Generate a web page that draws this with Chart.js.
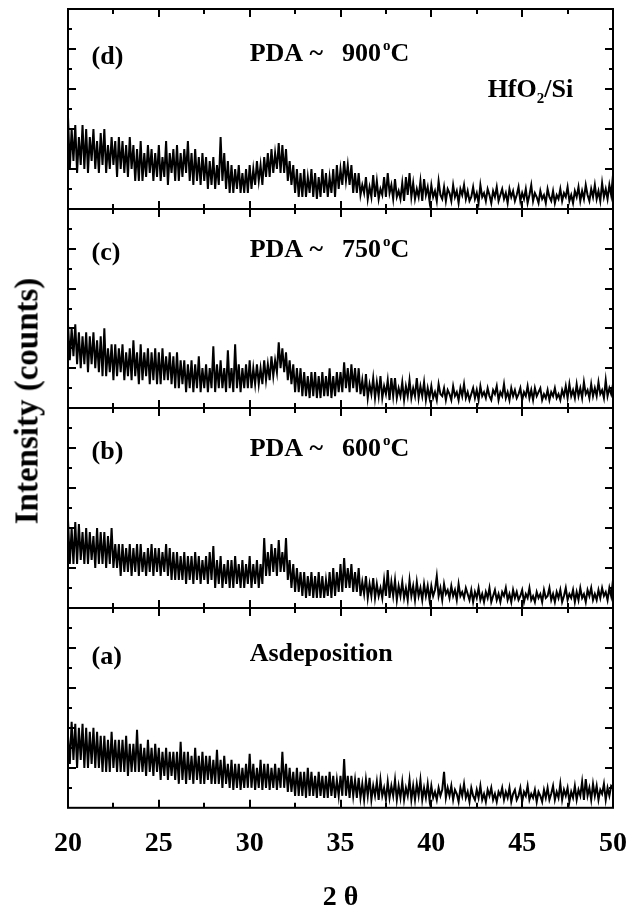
<!DOCTYPE html>
<html>
<head>
<meta charset="utf-8">
<script src="https://cdn.jsdelivr.net/npm/chart.js@4.4.1/dist/chart.umd.min.js"></script>
<style>
  html, body { margin: 0; padding: 0; background: #fff; }
  body { width: 630px; height: 916px; position: relative; overflow: hidden; }
  .panel { position: absolute; left: 0; width: 630px; }
  .panel canvas { display: block; }
  #ytitle {
    position: absolute; left: 27px; top: 401px;
    transform: translate(-50%, -50%) rotate(-90deg);
    font: bold 33px "Liberation Serif", "Times New Roman", serif;
    white-space: nowrap; color: #000;
  }
</style>
</head>
<body>
<div class="panel" style="top:0px"><canvas id="pd" width="630" height="220"></canvas></div>
<div class="panel" style="top:199px"><canvas id="pc" width="630" height="220"></canvas></div>
<div class="panel" style="top:398px"><canvas id="pb" width="630" height="220"></canvas></div>
<div class="panel" style="top:598px"><canvas id="pa" width="630" height="318"></canvas></div>
<div id="ytitle">Intensity (counts)</div>

<script>
// 2-theta sampling grid (degrees)
const twoTheta = [
  20.0, 20.1, 20.2, 20.3, 20.4, 20.5, 20.6, 20.7, 20.8, 20.9,
  21.0, 21.1, 21.2, 21.3, 21.4, 21.5, 21.6, 21.7, 21.8, 21.9,
  22.0, 22.1, 22.2, 22.3, 22.4, 22.5, 22.6, 22.7, 22.8, 22.9,
  23.0, 23.1, 23.2, 23.3, 23.4, 23.5, 23.6, 23.7, 23.8, 23.9,
  24.0, 24.1, 24.2, 24.3, 24.4, 24.5, 24.6, 24.7, 24.8, 24.9,
  25.0, 25.1, 25.2, 25.3, 25.4, 25.5, 25.6, 25.7, 25.8, 25.9,
  26.0, 26.1, 26.2, 26.3, 26.4, 26.5, 26.6, 26.7, 26.8, 26.9,
  27.0, 27.1, 27.2, 27.3, 27.4, 27.5, 27.6, 27.7, 27.8, 27.9,
  28.0, 28.1, 28.2, 28.3, 28.4, 28.5, 28.6, 28.7, 28.8, 28.9,
  29.0, 29.1, 29.2, 29.3, 29.4, 29.5, 29.6, 29.7, 29.8, 29.9,
  30.0, 30.1, 30.2, 30.3, 30.4, 30.5, 30.6, 30.7, 30.8, 30.9,
  31.0, 31.1, 31.2, 31.3, 31.4, 31.5, 31.6, 31.7, 31.8, 31.9,
  32.0, 32.1, 32.2, 32.3, 32.4, 32.5, 32.6, 32.7, 32.8, 32.9,
  33.0, 33.1, 33.2, 33.3, 33.4, 33.5, 33.6, 33.7, 33.8, 33.9,
  34.0, 34.1, 34.2, 34.3, 34.4, 34.5, 34.6, 34.7, 34.8, 34.9,
  35.0, 35.1, 35.2, 35.3, 35.4, 35.5, 35.6, 35.7, 35.8, 35.9,
  36.0, 36.1, 36.2, 36.3, 36.4, 36.5, 36.6, 36.7, 36.8, 36.9,
  37.0, 37.1, 37.2, 37.3, 37.4, 37.5, 37.6, 37.7, 37.8, 37.9,
  38.0, 38.1, 38.2, 38.3, 38.4, 38.5, 38.6, 38.7, 38.8, 38.9,
  39.0, 39.1, 39.2, 39.3, 39.4, 39.5, 39.6, 39.7, 39.8, 39.9,
  40.0, 40.1, 40.2, 40.3, 40.4, 40.5, 40.6, 40.7, 40.8, 40.9,
  41.0, 41.1, 41.2, 41.3, 41.4, 41.5, 41.6, 41.7, 41.8, 41.9,
  42.0, 42.1, 42.2, 42.3, 42.4, 42.5, 42.6, 42.7, 42.8, 42.9,
  43.0, 43.1, 43.2, 43.3, 43.4, 43.5, 43.6, 43.7, 43.8, 43.9,
  44.0, 44.1, 44.2, 44.3, 44.4, 44.5, 44.6, 44.7, 44.8, 44.9,
  45.0, 45.1, 45.2, 45.3, 45.4, 45.5, 45.6, 45.7, 45.8, 45.9,
  46.0, 46.1, 46.2, 46.3, 46.4, 46.5, 46.6, 46.7, 46.8, 46.9,
  47.0, 47.1, 47.2, 47.3, 47.4, 47.5, 47.6, 47.7, 47.8, 47.9,
  48.0, 48.1, 48.2, 48.3, 48.4, 48.5, 48.6, 48.7, 48.8, 48.9,
  49.0, 49.1, 49.2, 49.3, 49.4, 49.5, 49.6, 49.7, 49.8, 49.9,
  50.0
];

// intensity, arbitrary units (each panel spans 0..5)
const pda900 = [
  2.3, 1.0, 2.0, 1.2, 2.1, 0.9, 1.8, 1.1, 2.1, 1.0,
  2.0, 0.9, 1.8, 1.2, 2.0, 1.0, 1.7, 0.9, 1.9, 1.1,
  2.0, 0.9, 1.6, 1.0, 1.8, 1.1, 1.7, 0.8, 1.8, 1.0,
  1.7, 0.9, 1.6, 0.8, 1.8, 1.0, 1.6, 0.7, 1.5, 0.7,
  1.7, 0.7, 1.4, 0.8, 1.6, 0.9, 1.5, 0.7, 1.4, 0.8,
  1.6, 0.7, 1.3, 0.8, 1.7, 0.6, 1.4, 0.9, 1.5, 0.7,
  1.6, 0.7, 1.4, 0.8, 1.5, 0.9, 1.7, 0.7, 1.4, 0.6,
  1.5, 0.7, 1.3, 0.6, 1.4, 0.7, 1.3, 0.5, 1.2, 0.6,
  1.3, 0.5, 1.1, 0.6, 1.8, 0.7, 1.4, 0.5, 1.2, 0.4,
  1.1, 0.4, 1.0, 0.5, 1.1, 0.4, 0.9, 0.4, 1.0, 0.4,
  1.1, 0.5, 1.0, 0.6, 1.2, 0.7, 1.1, 0.6, 1.3, 0.8,
  1.4, 0.8, 1.5, 0.9, 1.4, 1.0, 1.65, 0.9, 1.6, 0.9,
  1.5, 0.7, 1.2, 0.6, 1.1, 0.4, 1.0, 0.3, 0.9, 0.3,
  1.0, 0.3, 0.8, 0.4, 1.0, 0.3, 0.9, 0.25, 0.8, 0.3,
  1.0, 0.4, 0.9, 0.3, 0.8, 0.4, 1.0, 0.3, 1.1, 0.5,
  1.0, 0.6, 1.2, 0.7, 1.1, 0.6, 1.1, 0.4, 0.9, 0.4,
  0.9, 0.35, 0.6, 0.4, 0.8, 0.25, 0.55, 0.3, 0.85, 0.3,
  0.7, 0.25, 0.5, 0.35, 0.8, 0.3, 0.9, 0.4, 0.6, 0.25,
  0.75, 0.3, 0.45, 0.25, 0.65, 0.2, 0.8, 0.35, 0.9, 0.3,
  0.65, 0.25, 0.5, 0.3, 0.7, 0.2, 0.75, 0.35, 0.55, 0.2,
  0.6, 0.3, 0.45, 0.2, 0.7, 0.35, 0.25, 0.55, 0.2, 0.5,
  0.4, 0.2, 0.6, 0.3, 0.45, 0.15, 0.5, 0.35, 0.6, 0.25,
  0.45, 0.2, 0.3, 0.55, 0.25, 0.4, 0.15, 0.6, 0.3, 0.4,
  0.2, 0.5, 0.35, 0.15, 0.45, 0.3, 0.55, 0.2, 0.35, 0.5,
  0.25, 0.4, 0.15, 0.5, 0.3, 0.45, 0.2, 0.35, 0.55, 0.2,
  0.4, 0.25, 0.5, 0.15, 0.35, 0.6, 0.2, 0.4, 0.3, 0.15,
  0.45, 0.25, 0.35, 0.15, 0.5, 0.3, 0.2, 0.45, 0.15, 0.35,
  0.25, 0.5, 0.2, 0.4, 0.3, 0.55, 0.2, 0.35, 0.15, 0.45,
  0.3, 0.55, 0.2, 0.45, 0.25, 0.6, 0.35, 0.2, 0.5, 0.3,
  0.6, 0.25, 0.45, 0.2, 0.65, 0.3, 0.5, 0.25, 0.6, 0.35,
  0.85
];
const pda750 = [
  2.1, 1.2, 2.0, 1.3, 2.1, 1.1, 1.9, 1.0, 1.8, 1.1,
  1.9, 0.9, 1.8, 1.1, 1.9, 1.0, 1.7, 0.9, 1.8, 0.8,
  2.0, 0.8, 1.5, 0.9, 1.6, 0.7, 1.6, 0.8, 1.5, 0.9,
  1.6, 0.7, 1.4, 0.8, 1.5, 0.7, 1.7, 0.8, 1.4, 0.6,
  1.6, 0.7, 1.4, 0.8, 1.5, 0.6, 1.4, 0.7, 1.5, 0.6,
  1.4, 0.6, 1.5, 0.7, 1.3, 0.7, 1.4, 0.6, 1.3, 0.5,
  1.4, 0.5, 1.2, 0.6, 1.2, 0.4, 1.1, 0.5, 1.2, 0.4,
  1.1, 0.5, 1.3, 0.4, 1.0, 0.5, 1.1, 0.4, 1.0, 0.5,
  1.55, 0.4, 1.1, 0.5, 1.2, 0.5, 1.0, 0.4, 1.45, 0.5,
  1.0, 0.4, 1.6, 0.5, 1.1, 0.4, 1.0, 0.5, 1.1, 0.5,
  1.2, 0.5, 1.0, 0.6, 1.1, 0.6, 1.0, 0.6, 1.2, 0.7,
  1.1, 0.7, 1.3, 0.8, 1.2, 0.9, 1.65, 1.0, 1.5, 0.9,
  1.4, 0.7, 1.2, 0.6, 1.1, 0.4, 1.0, 0.4, 1.0, 0.3,
  0.9, 0.3, 0.8, 0.25, 0.9, 0.3, 0.9, 0.25, 0.8, 0.25,
  0.9, 0.3, 0.8, 0.3, 1.0, 0.25, 0.8, 0.3, 0.9, 0.4,
  0.9, 0.4, 1.15, 0.5, 1.0, 0.4, 1.1, 0.5, 1.0, 0.4,
  1.0, 0.35, 0.7, 0.3, 0.85, 0.25, 0.6, 0.35, 0.75, 0.25,
  0.65, 0.3, 0.8, 0.25, 0.55, 0.35, 0.7, 0.2, 0.75, 0.3,
  0.75, 0.25, 0.5, 0.3, 0.65, 0.2, 0.55, 0.3, 0.7, 0.25,
  0.5, 0.3, 0.75, 0.25, 0.55, 0.3, 0.65, 0.2, 0.5, 0.25,
  0.55, 0.25, 0.4, 0.2, 0.6, 0.35, 0.3, 0.5, 0.2, 0.45,
  0.35, 0.2, 0.55, 0.3, 0.4, 0.2, 0.5, 0.3, 0.6, 0.25,
  0.4, 0.2, 0.35, 0.5, 0.25, 0.45, 0.2, 0.55, 0.3, 0.4,
  0.25, 0.5, 0.3, 0.2, 0.45, 0.35, 0.55, 0.2, 0.4, 0.3,
  0.6, 0.25, 0.4, 0.2, 0.5, 0.3, 0.45, 0.25, 0.35, 0.5,
  0.2, 0.4, 0.3, 0.55, 0.25, 0.45, 0.2, 0.5, 0.3, 0.4,
  0.5, 0.2, 0.35, 0.25, 0.45, 0.2, 0.4, 0.3, 0.5, 0.25,
  0.35, 0.2, 0.45, 0.3, 0.55, 0.25, 0.6, 0.3, 0.45, 0.25,
  0.6, 0.3, 0.5, 0.25, 0.65, 0.35, 0.45, 0.25, 0.6, 0.3,
  0.5, 0.3, 0.65, 0.35, 0.45, 0.25, 0.7, 0.3, 0.5, 0.35,
  0.6
];
const pda600 = [
  2.2, 1.1, 2.0, 1.1, 2.15, 1.1, 2.1, 1.2, 1.9, 1.1,
  2.0, 1.1, 1.9, 1.2, 1.8, 1.0, 2.0, 1.1, 1.9, 1.1,
  1.9, 1.0, 1.8, 1.1, 2.0, 1.0, 1.6, 1.0, 1.6, 0.8,
  1.6, 0.9, 1.5, 0.9, 1.6, 0.8, 1.5, 0.9, 1.6, 0.8,
  1.6, 0.9, 1.4, 0.8, 1.5, 0.9, 1.6, 0.8, 1.5, 0.9,
  1.5, 0.8, 1.4, 0.9, 1.6, 0.8, 1.5, 0.7, 1.4, 0.7,
  1.4, 0.7, 1.3, 0.7, 1.4, 0.6, 1.3, 0.7, 1.3, 0.6,
  1.4, 0.7, 1.3, 0.6, 1.2, 0.7, 1.3, 0.6, 1.4, 0.7,
  1.55, 0.5, 1.2, 0.6, 1.3, 0.5, 1.1, 0.6, 1.2, 0.5,
  1.2, 0.5, 1.3, 0.6, 1.1, 0.5, 1.2, 0.5, 1.1, 0.6,
  1.3, 0.5, 1.1, 0.6, 1.2, 0.5, 1.1, 0.6, 1.75, 0.8,
  1.4, 0.8, 1.6, 0.9, 1.5, 0.8, 1.7, 0.9, 1.4, 0.9,
  1.75, 0.7, 1.2, 0.5, 1.1, 0.4, 1.0, 0.4, 0.9, 0.3,
  0.9, 0.25, 0.8, 0.3, 0.9, 0.25, 0.8, 0.25, 0.9, 0.25,
  0.8, 0.25, 0.7, 0.3, 0.9, 0.25, 1.0, 0.3, 0.9, 0.4,
  1.1, 0.4, 1.25, 0.5, 1.0, 0.5, 1.1, 0.4, 0.9, 0.4,
  1.0, 0.3, 0.65, 0.35, 0.8, 0.25, 0.6, 0.3, 0.75, 0.25,
  0.6, 0.3, 0.5, 0.25, 0.7, 0.3, 0.95, 0.25, 0.65, 0.3,
  0.7, 0.2, 0.55, 0.3, 0.65, 0.25, 0.5, 0.2, 0.7, 0.3,
  0.55, 0.2, 0.65, 0.3, 0.5, 0.2, 0.6, 0.3, 0.55, 0.2,
  0.55, 0.3, 0.45, 0.8, 0.3, 0.5, 0.2, 0.6, 0.35, 0.45,
  0.25, 0.55, 0.3, 0.45, 0.2, 0.6, 0.3, 0.4, 0.25, 0.5,
  0.35, 0.2, 0.45, 0.15, 0.4, 0.25, 0.5, 0.2, 0.35, 0.15,
  0.4, 0.25, 0.5, 0.15, 0.3, 0.45, 0.2, 0.35, 0.15, 0.4,
  0.3, 0.5, 0.2, 0.35, 0.15, 0.45, 0.25, 0.4, 0.2, 0.3,
  0.45, 0.15, 0.35, 0.25, 0.5, 0.2, 0.3, 0.15, 0.4, 0.25,
  0.35, 0.15, 0.45, 0.25, 0.3, 0.5, 0.2, 0.35, 0.15, 0.4,
  0.25, 0.45, 0.15, 0.3, 0.5, 0.2, 0.35, 0.25, 0.45, 0.15,
  0.4, 0.2, 0.5, 0.25, 0.35, 0.15, 0.45, 0.3, 0.5, 0.2,
  0.35, 0.2, 0.45, 0.25, 0.5, 0.3, 0.4, 0.2, 0.5, 0.3,
  0.7
];
const asDeposited = [
  1.8, 1.1, 2.15, 1.2, 2.1, 1.0, 2.0, 1.2, 2.1, 1.0,
  2.0, 1.0, 1.9, 1.1, 2.0, 1.0, 1.9, 1.0, 1.8, 0.9,
  1.8, 0.9, 1.7, 0.9, 1.9, 1.0, 1.7, 0.9, 1.7, 0.9,
  1.7, 0.9, 1.8, 0.8, 1.6, 0.9, 1.6, 0.9, 1.95, 0.9,
  1.6, 0.9, 1.5, 0.8, 1.7, 0.9, 1.5, 0.8, 1.6, 0.9,
  1.5, 0.7, 1.4, 0.8, 1.5, 0.7, 1.4, 0.8, 1.4, 0.7,
  1.4, 0.6, 1.65, 0.7, 1.4, 0.6, 1.4, 0.7, 1.3, 0.6,
  1.5, 0.7, 1.3, 0.6, 1.4, 0.6, 1.3, 0.7, 1.3, 0.6,
  1.2, 0.6, 1.45, 0.6, 1.2, 0.5, 1.3, 0.6, 1.1, 0.5,
  1.2, 0.45, 1.1, 0.5, 1.1, 0.45, 1.0, 0.5, 1.1, 0.5,
  1.35, 0.5, 1.1, 0.45, 1.0, 0.5, 1.2, 0.45, 1.1, 0.5,
  1.1, 0.45, 1.0, 0.5, 1.1, 0.45, 1.0, 0.5, 1.4, 0.5,
  1.1, 0.4, 1.0, 0.4, 0.9, 0.3, 1.0, 0.3, 0.9, 0.3,
  0.9, 0.25, 1.0, 0.3, 0.9, 0.3, 0.8, 0.25, 0.9, 0.3,
  0.8, 0.25, 0.8, 0.25, 0.9, 0.3, 0.8, 0.25, 0.7, 0.3,
  0.8, 0.3, 1.22, 0.3, 0.8, 0.25, 0.8, 0.3, 0.7, 0.25,
  0.75, 0.25, 0.6, 0.2, 0.7, 0.3, 0.75, 0.2, 0.55, 0.3,
  0.65, 0.2, 0.7, 0.3, 0.5, 0.2, 0.65, 0.25, 0.55, 0.3,
  0.7, 0.2, 0.55, 0.25, 0.65, 0.2, 0.5, 0.3, 0.7, 0.2,
  0.55, 0.2, 0.6, 0.3, 0.7, 0.2, 0.5, 0.25, 0.6, 0.2,
  0.55, 0.25, 0.4, 0.2, 0.5, 0.3, 0.45, 0.9, 0.25, 0.5,
  0.3, 0.55, 0.2, 0.45, 0.35, 0.15, 0.5, 0.3, 0.6, 0.25,
  0.4, 0.15, 0.5, 0.3, 0.2, 0.45, 0.25, 0.55, 0.2, 0.35,
  0.15, 0.45, 0.3, 0.5, 0.2, 0.35, 0.15, 0.4, 0.3, 0.5,
  0.2, 0.4, 0.25, 0.5, 0.15, 0.35, 0.45, 0.2, 0.3, 0.5,
  0.15, 0.4, 0.3, 0.55, 0.2, 0.35, 0.25, 0.45, 0.15, 0.4,
  0.3, 0.15, 0.45, 0.25, 0.5, 0.2, 0.35, 0.55, 0.2, 0.4,
  0.25, 0.6, 0.2, 0.45, 0.3, 0.5, 0.15, 0.4, 0.25, 0.55,
  0.2, 0.45, 0.3, 0.65, 0.2, 0.72, 0.3, 0.5, 0.2, 0.6,
  0.3, 0.55, 0.2, 0.45, 0.35, 0.6, 0.2, 0.5, 0.3, 0.55,
  0.5
];

const xMajorTicks = [20, 25, 30, 35, 40, 45, 50];
const xMinorTicks = [22.5, 27.5, 32.5, 37.5, 42.5, 47.5];
const yMajorTicks = [1, 2, 3, 4];
const yMinorTicks = [0.5, 1.5, 2.5, 3.5, 4.5];

const SERIF = '"Liberation Serif", "Times New Roman", serif';

// each label: list of text pieces drawn one after another
const panels = [
  { id: 'pd', data: pda900, padTop: 9, padBottom: 11, labels: [
      { x: 21.3, y: 3.62, parts: [{ t: '(d)' }] },
      { x: 30.0, y: 3.7, parts: [{ t: 'PDA ~' }, { t: '900', gap: 19 }, { t: 'o', sup: true, gap: 2 }, { t: 'C' }] },
      { x: 43.1, y: 2.8, parts: [{ t: 'HfO' }, { t: '2', sub: true }, { t: '/Si' }] } ] },
  { id: 'pc', data: pda750, padTop: 10, padBottom: 11, labels: [
      { x: 21.3, y: 3.72, parts: [{ t: '(c)' }] },
      { x: 30.0, y: 3.8, parts: [{ t: 'PDA ~' }, { t: '750', gap: 19 }, { t: 'o', sup: true, gap: 2 }, { t: 'C' }] } ] },
  { id: 'pb', data: pda600, padTop: 10, padBottom: 10, labels: [
      { x: 21.3, y: 3.72, parts: [{ t: '(b)' }] },
      { x: 30.0, y: 3.8, parts: [{ t: 'PDA ~' }, { t: '600', gap: 19 }, { t: 'o', sup: true, gap: 2 }, { t: 'C' }] } ] },
  { id: 'pa', data: asDeposited, padTop: 10, padBottom: 1, bottom: true, labels: [
      { x: 21.3, y: 3.6, parts: [{ t: '(a)' }] },
      { x: 30.0, y: 3.68, parts: [{ t: 'Asdeposition' }] } ] }
];

const framePlugin = {
  id: 'frame',
  afterDraw(chart, args, opts) {
    const { ctx, chartArea: a } = chart;
    const xs = chart.scales.x, ys = chart.scales.y;
    ctx.save();
    ctx.strokeStyle = '#000';
    ctx.lineWidth = 2;
    ctx.strokeRect(a.left, a.top, a.right - a.left, a.bottom - a.top);
    ctx.beginPath();
    const xt = (v, len) => {
      const px = Math.round(xs.getPixelForValue(v));
      ctx.moveTo(px, a.top); ctx.lineTo(px, a.top + len);
      ctx.moveTo(px, a.bottom); ctx.lineTo(px, a.bottom - len);
    };
    const yt = (v, len) => {
      const py = Math.round(ys.getPixelForValue(v));
      ctx.moveTo(a.left, py); ctx.lineTo(a.left + len, py);
      ctx.moveTo(a.right, py); ctx.lineTo(a.right - len, py);
    };
    xMajorTicks.forEach(v => xt(v, 8));
    xMinorTicks.forEach(v => xt(v, 5));
    yMajorTicks.forEach(v => yt(v, 8));
    yMinorTicks.forEach(v => yt(v, 4));
    ctx.stroke();

    // panel texts
    ctx.fillStyle = '#000';
    ctx.textBaseline = 'alphabetic';
    ctx.textAlign = 'left';
    (opts.labels || []).forEach(lab => {
      let px = xs.getPixelForValue(lab.x);
      const py = ys.getPixelForValue(lab.y);
      lab.parts.forEach(p => {
        px += p.gap || 0;
        const small = p.sup || p.sub;
        ctx.font = 'bold ' + (small ? 15 : 26) + 'px ' + SERIF;
        const dy = p.sup ? -11 : (p.sub ? 6 : 0);
        ctx.fillText(p.t, px, py + dy);
        px += ctx.measureText(p.t).width;
      });
    });
    ctx.restore();
  }
};

panels.forEach(p => {
  const xScale = {
    type: 'linear', min: 20, max: 50, display: !!p.bottom,
    grid: { display: false, drawTicks: false },
    border: { display: false },
    afterBuildTicks: s => { s.ticks = xMajorTicks.map(v => ({ value: v })); },
    afterFit: s => { s.paddingLeft = 0; s.paddingRight = 0; },
    ticks: {
      color: '#000', padding: 19, maxRotation: 0, autoSkip: false,
      font: { family: SERIF, size: 28, weight: 'bold' }
    },
    title: {
      display: true, text: '2 θ', color: '#000',
      font: { family: SERIF, size: 28, weight: 'bold' },
      padding: { top: 2, bottom: 0 }
    }
  };
  new Chart(document.getElementById(p.id), {
    type: 'line',
    data: {
      datasets: [{
        data: twoTheta.map((x, i) => ({ x: x, y: p.data[i] })),
        borderColor: '#000', borderWidth: 2, pointRadius: 0, tension: 0, fill: false
      }]
    },
    options: {
      responsive: false, animation: false, devicePixelRatio: 1,
      parsing: false,
      layout: { padding: { left: 68, right: 17, top: p.padTop, bottom: p.padBottom } },
      plugins: { legend: { display: false }, tooltip: { enabled: false }, frame: { labels: p.labels } },
      scales: {
        x: xScale,
        y: { type: 'linear', min: 0, max: 5, display: false }
      }
    },
    plugins: [framePlugin]
  });
});
</script>
</body>
</html>
